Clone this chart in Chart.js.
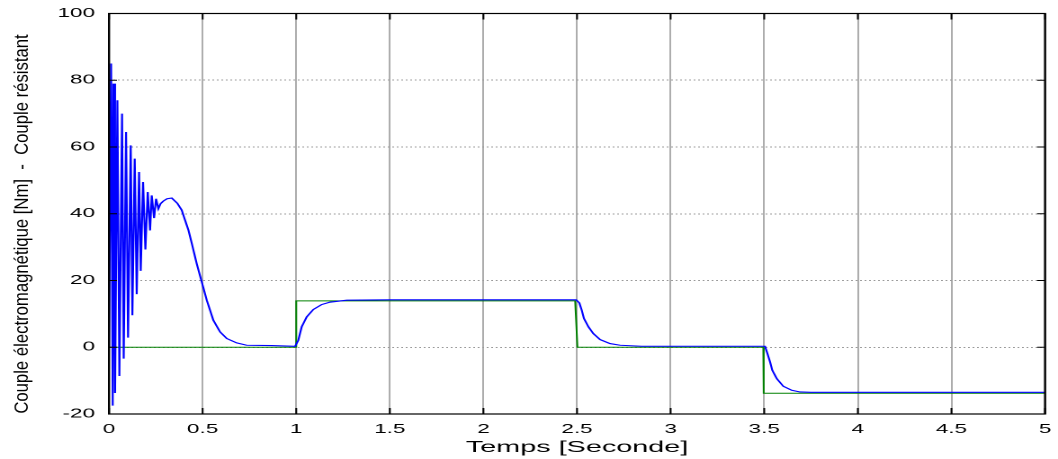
<!DOCTYPE html>
<html><head><meta charset="utf-8">
<script src="https://cdn.jsdelivr.net/npm/chart.js@4/dist/chart.umd.min.js"></script>
<style>
html,body{margin:0;padding:0;background:#fff;overflow:hidden;width:1058px;height:459px;}
#wrap{position:absolute;left:0;top:0;width:588px;height:459px;transform:scaleX(1.79932);transform-origin:0 0;}
</style></head><body>
<div id="wrap"><canvas id="c" width="588" height="459"></canvas></div>
<script>
// ---- data ----
const timeElec = [0, 0.0107, 0.0196, 0.0231, 0.032, 0.0445, 0.0552, 0.0694, 0.0783, 0.0908, 0.1015, 0.1157, 0.1246, 0.1371, 0.1478, 0.1603, 0.1692, 0.1816, 0.1941, 0.2066, 0.219, 0.2279, 0.2404, 0.2511, 0.2635, 0.275, 0.29, 0.31, 0.335, 0.365, 0.388, 0.406, 0.424, 0.442, 0.468, 0.495, 0.522, 0.557, 0.593, 0.629, 0.682, 0.735, 0.869, 0.994, 1.011, 1.029, 1.056, 1.091, 1.136, 1.18, 1.27, 1.5, 2.495, 2.512, 2.525, 2.537, 2.561, 2.587, 2.623, 2.676, 2.73, 2.845, 3.504, 3.517, 3.531, 3.543, 3.567, 3.602, 3.647, 3.691, 3.75, 5];
const torqueElec = [0, 85, -17.5, 79, -13.7, 74, -8.6, 70, -3.4, 64.5, 2.9, 60.5, 9.6, 56.5, 15.9, 52.5, 22.9, 49.5, 29.3, 46.5, 35, 45.5, 38.7, 44.5, 41.5, 43, 43.8, 44.5, 44.7, 43.1, 41.1, 38.1, 35.1, 31.1, 25.1, 19.6, 14.1, 8.1, 4.6, 2.6, 1.3, 0.6, 0.5, 0.3, 2.1, 6.1, 9.1, 11.3, 12.8, 13.5, 14.1, 14.2, 14.2, 13.3, 11.1, 8.6, 6.1, 4.1, 2.3, 1.1, 0.6, 0.3, 0.3, -1.9, -4.4, -6.9, -9.4, -11.7, -12.9, -13.4, -13.5, -13.5];
const timeLoad = [0, 0.995, 1.0, 2.49, 2.502, 3.495, 3.497, 5];
const torqueLoad = [0, 0, 13.9, 13.9, 0, 0, -13.8, -13.8];
const xTitle = 'Temps [Seconde]';
const yTitle = 'Couple électromagnétique [Nm]  -  Couple résistant';

const S = 1058 / 588;
const FONT = "'Liberation Sans', Arial, sans-serif";

const toPts = (xs, ys) => xs.map((x, i) => ({x: x, y: ys[i]}));

const framePlugin = {
  id: 'frame',
  afterDraw(chart) {
    const ctx = chart.ctx, a = chart.chartArea;
    const xs = chart.scales.x, ys = chart.scales.y;
    ctx.save();
    ctx.strokeStyle = '#000';
    ctx.lineWidth = 1;
    xs.ticks.forEach(t => {
      const px = xs.getPixelForValue(t.value);
      ctx.beginPath();
      ctx.moveTo(px, a.bottom); ctx.lineTo(px, a.bottom - 6);
      ctx.moveTo(px, a.top); ctx.lineTo(px, a.top + 6);
      ctx.stroke();
    });
    ys.ticks.forEach(t => {
      const py = ys.getPixelForValue(t.value);
      ctx.beginPath();
      ctx.moveTo(a.left, py); ctx.lineTo(a.left + 4.4, py);
      ctx.moveTo(a.right, py); ctx.lineTo(a.right - 4.4, py);
      ctx.stroke();
    });
    ctx.lineWidth = 1.2;
    ctx.strokeRect(a.left, a.top, a.right - a.left, a.bottom - a.top);
    // y axis title, compensated for the horizontal stretch of the page
    ctx.translate(23 / S, 224);
    ctx.scale(1.15 / S, 1);
    ctx.rotate(-Math.PI / 2);
    ctx.fillStyle = '#000';
    ctx.font = '16.7px ' + FONT;
    ctx.textAlign = 'center';
    ctx.textBaseline = 'middle';
    ctx.fillText(chart.options.scales.y.title.text, 0, 0);
    ctx.restore();
  }
};

new Chart(document.getElementById('c'), {
  type: 'line',
  data: {
    datasets: [
      {data: toPts(timeElec, torqueElec), borderColor: '#0000ff', borderWidth: 1.1, pointRadius: 0, tension: 0, order: 0},
      {data: toPts(timeLoad, torqueLoad), borderColor: '#008000', borderWidth: 1, pointRadius: 0, tension: 0, order: 1}
    ]
  },
  options: {
    responsive: false,
    animation: false,
    devicePixelRatio: 2,
    events: [],
    layout: {padding: {left: 0, right: 0, top: 13.5, bottom: 0}},
    plugins: {legend: {display: false}, tooltip: {enabled: false}},
    scales: {
      x: {
        type: 'linear', min: 0, max: 5,
        ticks: {stepSize: 0.5, autoSkip: false, maxRotation: 0, color: '#000', padding: 8,
                font: {family: FONT, size: 12.5}, callback: v => String(v)},
        grid: {color: '#808080', lineWidth: 0.65, drawTicks: false},
        border: {display: false},
        title: {display: true, text: xTitle, color: '#000', font: {family: FONT, size: 16}, padding: {top: 0, bottom: 2}},
        afterFit: s => { s.height = 45; s.paddingRight = 7.2; s.paddingLeft = 0; }
      },
      y: {
        min: -20, max: 100,
        ticks: {stepSize: 20, color: '#000', padding: 7.8, font: {family: FONT, size: 12.5}},
        grid: {color: '#9a9a9a', lineWidth: 1, drawTicks: false},
        border: {display: false, dash: [1, 1.5]},
        title: {display: false, text: yTitle},
        afterFit: s => { s.width = 60.6; s.paddingTop = 0; s.paddingBottom = 0; }
      }
    }
  },
  plugins: [framePlugin]
});
</script>
</body></html>
